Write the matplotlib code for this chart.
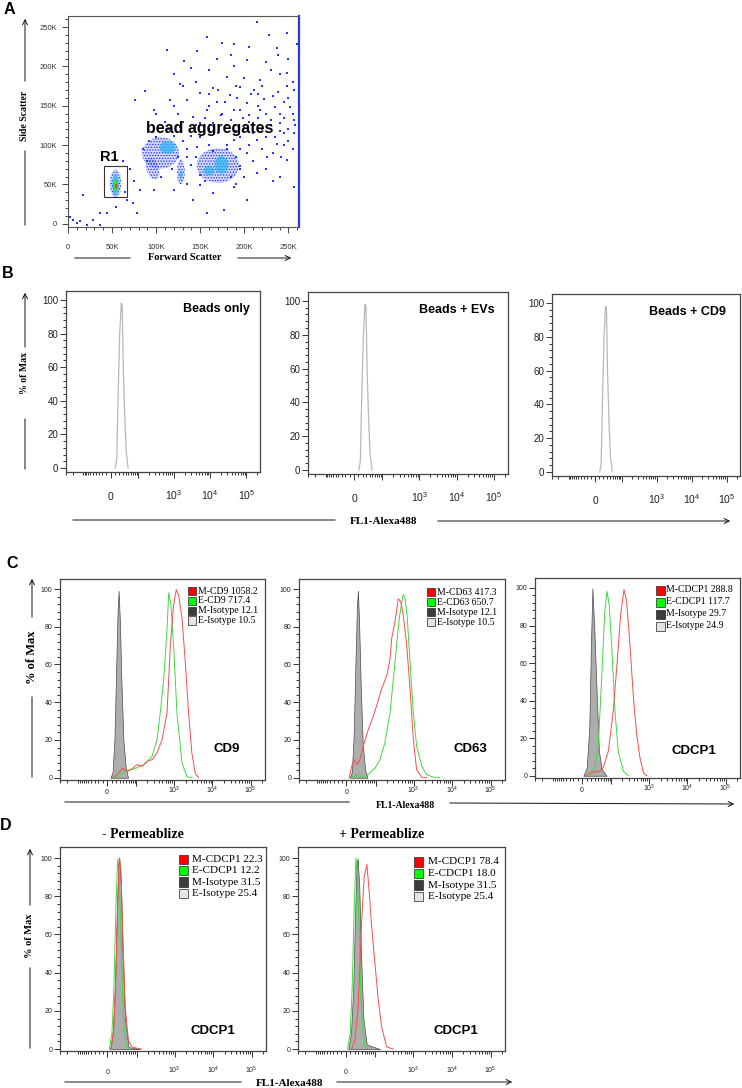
import numpy as np
import matplotlib
matplotlib.use("Agg")
import matplotlib.pyplot as plt
from matplotlib.patches import Ellipse, Rectangle, FancyArrowPatch
from matplotlib.ticker import FixedLocator, FixedFormatter, MultipleLocator

plt.rcParams['font.family'] = ['Liberation Sans', 'DejaVu Sans']
plt.rcParams['mathtext.fontset'] = 'custom'
plt.rcParams['mathtext.rm'] = 'Liberation Sans'
plt.rcParams['mathtext.default'] = 'rm'
plt.rcParams['hatch.linewidth'] = 0.6

W, H = 742, 1088
SERIF = ['Liberation Serif', 'DejaVu Serif']

# ---------------- panel A data (K units) ----------------
a_sparse_x = [214, 228, 158, 112, 237, 146, 132, 140, 203, 169, 188, 248, 180, 218, 195, 165, 256, 87.5,
              211, 150, 184, 233, 76, 135, 169, 203, 252, 158, 188, 218, 241, 142, 173, 199, 256, 150,
              211, 230, 245, 256, 127, 188, 214, 237, 146, 203, 226, 248, 195, 214, 233, 135, 82, 74,
              67, 78, 36, 28, 17, 2, 10, 21, 36, 6, 14, 150, 165, 177, 142, 120, 97, 55, 44, 248, 260,
              188, 127, 97, 116, 256, 188, 203, 158]
a_sparse_y = [257, 240, 237, 221, 223, 219, 207, 198, 208, 209, 200, 191, 187, 183, 174, 173, 170, 169,
              170, 166, 164, 162, 157, 157, 155, 153, 149, 145, 145, 145, 140, 136, 138, 134, 132, 128,
              126, 132, 115, 115, 123, 107, 107, 102, 98, 90, 85, 81, 73, 64, 54, 85, 43, 26,
              30, 14, 14, 5, 37, 9, 1, -1, -1, 5, 3, 49, 39, 18, 30, 43, 43, 22, 14, 242, 229,
              229, 178, 145, 157, 47, 47, 30, 14]
a_halo_x = [150, 160, 170, 180, 190, 200, 210, 220, 230, 240, 250, 155, 165, 175, 185, 195, 205, 215,
            225, 235, 245, 160, 178, 192, 208, 222, 238, 250, 140, 145, 205, 220, 235, 245, 180, 195,
            160, 130, 135, 125, 245, 255, 90, 85, 92, 100, 120, 125, 118, 105, 140, 145, 150, 155,
            185, 190, 195, 180, 165, 135, 75, 70, 65, 62]
a_halo_y = [110, 120, 115, 125, 118, 122, 115, 120, 125, 128, 120, 135, 128, 140, 132, 145, 138, 150,
            140, 148, 155, 150, 155, 160, 165, 158, 168, 160, 112, 125, 100, 95, 110, 100, 100, 95,
            100, 105, 95, 140, 135, 140, 80, 95, 105, 110, 112, 85, 70, 60, 75, 85, 62, 55,
            60, 85, 70, 95, 92, 50, 55, 70, 40, 80]
a_upper_x = [120, 130, 160, 175, 200, 215, 225, 240, 250, 255, 145, 170, 190, 205, 230, 238, 248, 220,
             185, 160, 110, 100, 120, 130, 115, 195, 205, 215, 225, 240, 250, 258, 232, 242, 210, 200,
             190, 225, 240, 255]
a_upper_y = [190, 175, 195, 230, 185, 165, 205, 190, 210, 180, 180, 170, 175, 225, 195, 215, 175, 175,
             215, 165, 130, 140, 150, 130, 120, 110, 130, 135, 110, 118, 105, 125, 90, 85, 80, 60,
             50, 70, 60, 95]

# dense populations: R1 beads, aggregates
pop_x = [54, 105, 96, 128, 170]
pop_y = [51, 90, 70, 66, 74]
pop_w = [13, 42, 14, 9, 48]
pop_h = [36, 40, 28, 32, 44]
pop_ang = [0, 10, 15, 0, 0]
core_x = [54, 113, 128, 174, 160]
core_y = [50, 97, 62, 75, 68]
core_w = [8, 18, 3.5, 16, 12]
core_h = [27, 16, 12, 22, 12]
peak_x = [54, 54.5]
peak_y = [49, 48]
peak_w = [4.5, 2.2]
peak_h = [16, 6]
r1_gate = [41, 34, 67, 73]

# ---------------- histogram data (channel, % of max) ----------------
b_x = [10.8, 14.4, 17.5, 21.9, 26.2, 28.9, 32.2, 37.0, 41.7, 48.7]
b_y = [0, 5, 40, 80, 98, 97, 60, 30, 10, 0]

c1_iso_x = [7.2, 12, 16.2, 19.8, 24.1, 26.8, 30.1, 34.6, 41.0, 49.5, 58.0]
c1_iso_y = [0, 3, 20, 52, 88, 99, 84, 52, 20, 5, 0]
c1_e_x = [16.2, 43, 86, 160, 267, 360, 438, 540, 658, 726, 832, 977, 1190, 1617, 2174, 2920]
c1_e_y = [0, 3.4, 4.6, 6.9, 11.4, 20.3, 34.6, 52.4, 79.1, 97.9, 91.6, 70.2, 34.6, 7.8, 0.5, 0]
c1_m_x = [12.6, 24.1, 38.3, 55.5, 77.4, 106, 147, 198, 267, 360, 490, 658, 802, 977, 1146, 1314,
          1617, 1971, 2398, 2920, 3560, 4390]
c1_m_y = [0, 2.0, 5.0, 3.4, 4.8, 6.9, 6.1, 8.7, 9.6, 13.2, 20.3, 34.6, 70.2, 91.6, 99.6, 97,
          84.5, 61.3, 34.6, 13.2, 2.5, 0]

c2_iso_x = [7.2, 12, 16.2, 19.8, 24.1, 26.8, 30.1, 34.6, 41.0, 49.5, 58.0]
c2_iso_y = [0, 3, 22, 55, 90, 99, 82, 50, 18, 4, 0]
c2_m_x = [6.2, 11.7, 17.0, 25.2, 32.6, 42.8, 62.3, 86.8, 107, 146, 200, 244, 269, 329, 400, 464,
          538, 664, 808, 985, 1199, 1631, 2193]
c2_m_y = [0, 6.1, 9.6, 6.9, 9.6, 16.8, 25.7, 32.8, 38.2, 47.1, 54.2, 63.1, 73.8, 82.7, 94.8, 93.4,
          86.3, 70.2, 47.1, 20.3, 4.3, 0.3, 0]
c2_e_x = [6.2, 15.5, 22.0, 30, 48.6, 69.4, 96.5, 132, 178, 244, 298, 362, 425, 482, 538, 601, 688,
          808, 985, 1199, 1631, 2193, 3250, 4820]
c2_e_y = [0, 0.4, 1.6, 0.2, 0.7, 2.5, 5.2, 9.6, 18.5, 34.6, 52.4, 70.2, 84.5, 91.6, 97, 95.2, 84.5,
          61.3, 34.6, 16.8, 6.1, 1.6, 0.3, 0]

c3_iso_x = [2.7, 9.9, 15.9, 19.9, 23.6, 28.6, 35.6, 42.8, 52.6, 74.4]
c3_iso_y = [0, 4.3, 25.5, 69.8, 99.8, 78.7, 43.3, 13.1, 3.4, 0]
c3_e_x = [17.5, 30.8, 40.8, 52.6, 65.7, 75.9, 87.8, 102.6, 127, 155, 212, 287]
c3_e_y = [0, 4.3, 16.7, 52.1, 87.6, 98.2, 91.1, 69.8, 34.4, 13.1, 2.5, 0]
c3_m_x = [8.5, 17.5, 30.8, 46.5, 58.9, 83.2, 114, 146, 180, 221, 259, 317, 392, 476, 580, 715, 871]
c3_m_y = [0, 1.6, 2.1, 2.5, 4.3, 13.1, 34.4, 61.0, 85.8, 99.1, 92.9, 69.8, 41.5, 22, 9.6, 1.6, 0]

d1_iso_x = [5.8, 11.7, 17.0, 21.0, 25.2, 28.0, 32.6, 37.6, 45.9, 58.1, 81, 123]
d1_iso_y = [0, 8.2, 32.6, 67.5, 97.2, 99.8, 85, 50, 15.2, 1.2, 0.5, 0]
d1_m_x = [8.1, 14.5, 19.4, 23.6, 28.0, 32.6, 37.6, 45.9, 58.1, 72.8, 100, 139]
d1_m_y = [0, 11.7, 41.4, 76.3, 100, 93.7, 62.3, 22.1, 4.7, 1.2, 0.5, 0]
d1_e_x = [4.0, 9.9, 14.5, 19.4, 23.6, 28.0, 32.6, 37.6, 42.2, 51.4, 64.9]
d1_e_y = [0, 8.2, 32.6, 76.3, 99.3, 88.5, 58.8, 27.4, 11.7, 1.2, 0]

d2_iso_x = [5.8, 11.7, 17.0, 21.0, 25.2, 28.0, 32.6, 37.6, 45.9, 58.1, 81, 136]
d2_iso_y = [0, 8.2, 32.6, 67.5, 97.2, 99.8, 85, 50, 15.2, 2.5, 1.5, 0]
d2_e_x = [4.0, 9.9, 14.5, 19.4, 23.6, 28.0, 32.6, 37.6, 42.2, 51.4, 64.9]
d2_e_y = [0, 8.2, 32.6, 76.3, 100, 88.5, 58.8, 27.4, 11.7, 1.2, 0]
d2_m_x = [13.1, 21.0, 29.6, 40.1, 48.6, 58.9, 69.4, 81, 100, 123, 151, 205, 305]
d2_m_y = [0, 4.7, 22, 67.5, 90.2, 96.7, 81.5, 64, 44.9, 25.7, 11.7, 1.2, 0]

legend_c1 = ['M-CD9 1058.2', 'E-CD9 717.4', 'M-Isotype 12.1', 'E-Isotype 10.5']
legend_c2 = ['M-CD63 417.3', 'E-CD63 650.7', 'M-Isotype 12.1', 'E-Isotype 10.5']
legend_c3 = ['M-CDCP1 288.8', 'E-CDCP1 117.7', 'M-Isotype 29.7', 'E-Isotype 24.9']
legend_d1 = ['M-CDCP1 22.3', 'E-CDCP1 12.2', 'M-Isotype 31.5', 'E-Isotype 25.4']
legend_d2 = ['M-CDCP1 78.4', 'E-CDCP1 18.0', 'M-Isotype 31.5', 'E-Isotype 25.4']
LEG_COLORS = ['#ff0000', '#00ff00', '#3c3c3c', '#e4e4e4']

RED = '#ff4a4a'
GREEN = '#3ddc3d'

fig = plt.figure(figsize=(W / 100, H / 100), dpi=100)


def rect(l, r, t, b):
    return [l / W, 1 - b / H, (r - l) / W, (b - t) / H]


def fpt(x, y):
    return (x / W, 1 - y / H)


def fline(x0, y0, x1, y1, arrow=False):
    style = '->' if arrow else '-'
    fig.add_artist(FancyArrowPatch(fpt(x0, y0), fpt(x1, y1), transform=fig.transFigure,
                                   arrowstyle=style, mutation_scale=9, lw=0.7, color='#111111'))


def ftext(x, y, s, **kw):
    fig.text(x / W, 1 - y / H, s, ha='center', va='center', **kw)


# ---------------- panel A ----------------
axA = fig.add_axes(rect(68, 299, 16, 227))
axA.set_xlim(0, 262)
axA.set_ylim(-4, 264)
for i in range(len(pop_x)):
    axA.add_patch(Ellipse((pop_x[i], pop_y[i]), pop_w[i], pop_h[i], angle=pop_ang[i],
                          fc='#6a80ff', alpha=0.3, lw=0))
    axA.add_patch(Ellipse((pop_x[i], pop_y[i]), pop_w[i], pop_h[i], angle=pop_ang[i],
                          fill=False, hatch='......', ec='#1f2fe0', lw=0))
for i in range(len(core_x)):
    axA.add_patch(Ellipse((core_x[i], core_y[i]), core_w[i], core_h[i],
                          fc='#22b8f0', alpha=0.7, lw=0))
axA.add_patch(Ellipse((peak_x[0], peak_y[0]), peak_w[0], peak_h[0], fc='#30e040', lw=0))
axA.add_patch(Ellipse((peak_x[1], peak_y[1]), peak_w[1], peak_h[1], fc='#ff3010', lw=0))
for xs, ys in [(a_sparse_x, a_sparse_y), (a_halo_x, a_halo_y), (a_upper_x, a_upper_y)]:
    axA.scatter(xs, ys, s=2.0, c='#2038ff', marker='s', lw=0)
axA.add_patch(Rectangle((r1_gate[0], r1_gate[1]), r1_gate[2] - r1_gate[0], r1_gate[3] - r1_gate[1],
                        fill=False, ec='#333333', lw=0.8))
axA.text(36, 85, 'R1', fontsize=10.5, fontweight='bold', va='center')
axA.text(89, 121, 'bead aggregates', fontsize=11.5, fontweight='bold', va='center')
ticksA = [0, 50, 100, 150, 200, 250]
labelsA = ['0', '50K', '100K', '150K', '200K', '250K']
axA.xaxis.set_major_locator(FixedLocator(ticksA))
axA.xaxis.set_major_formatter(FixedFormatter(labelsA))
axA.yaxis.set_major_locator(FixedLocator(ticksA))
axA.yaxis.set_major_formatter(FixedFormatter(labelsA))
axA.xaxis.set_minor_locator(MultipleLocator(10))
axA.yaxis.set_minor_locator(MultipleLocator(10))
axA.tick_params(which='both', direction='out', color='#444444', width=0.7, labelsize=5.5,
                labelcolor='#333333')
axA.tick_params(which='major', length=4)
axA.tick_params(which='minor', length=2)
axA.tick_params(axis='x', pad=8)
axA.tick_params(axis='y', pad=4)
for s in axA.spines.values():
    s.set_color('#555555')
    s.set_linewidth(0.8)
axA.spines['right'].set_color('#2a3ad8')
axA.spines['right'].set_linewidth(1.6)

ftext(25, 116, 'Side Scatter', rotation=90, fontsize=7, fontweight='bold', family=SERIF)
fline(25, 84, 25, 16, arrow=True)
fline(25, 228, 25, 148)
ftext(185, 258, 'Forward Scatter', fontsize=7.5, fontweight='bold', family=SERIF)
fline(72, 258, 133, 258)
fline(235, 258, 294, 258, arrow=True)

# ---------------- flow histogram axes ----------------
X_MIN, X_MAX = -305, 2.37e5


def fwd(x):
    return np.arcsinh(np.asarray(x, dtype=float) / 36.0)


def inv(y):
    return 36.0 * np.sinh(y)


MINOR = ([-300, -200, -100] + list(range(-90, 0, 10)) + list(range(10, 100, 10))
         + [m * 10 ** e for e in (2, 3, 4) for m in range(2, 10)] + [2e5])


def flow_axes(l, r, t, b, ylim, yfs, xfs, xpad):
    ax = fig.add_axes(rect(l, r, t, b))
    ax.set_xscale('function', functions=(fwd, inv))
    ax.set_xlim(X_MIN, X_MAX)
    ax.set_ylim(*ylim)
    ax.xaxis.set_major_locator(FixedLocator([0, 100, 1e3, 1e4, 1e5]))
    ax.xaxis.set_major_formatter(FixedFormatter(['0', '', '$10^3$', '$10^4$', '$10^5$']))
    ax.xaxis.set_minor_locator(FixedLocator(MINOR))
    ax.yaxis.set_major_locator(FixedLocator([0, 20, 40, 60, 80, 100]))
    ax.yaxis.set_minor_locator(FixedLocator(list(range(4, 100, 4))))
    ax.tick_params(which='both', direction='out', color='#333333', width=0.7)
    ax.tick_params(which='major', length=4)
    ax.tick_params(which='minor', length=2)
    ax.tick_params(axis='x', labelsize=xfs, pad=xpad, labelcolor='#222222')
    ax.tick_params(axis='y', labelsize=yfs, pad=1.5, labelcolor='#222222')
    for lab in ax.get_xticklabels():
        lab.set_va('baseline')
    for s in ax.spines.values():
        s.set_color('#444444')
        s.set_linewidth(0.9)
    return ax


def iso(ax, x, y):
    ax.fill_between(x, y, 0, fc='#adadad', ec='#4a4a4a', lw=0.5, zorder=2)


def curve(ax, x, y, color):
    ax.plot(x, y, color=color, lw=0.7, zorder=3)


def legend(ax, labels, x0, tx, y0, dy, sw, sh, fs):
    for i, (lab, col) in enumerate(zip(labels, LEG_COLORS)):
        y = y0 - i * dy
        ax.add_patch(Rectangle((x0, y - sh / 2), sw, sh, transform=ax.transAxes, fc=col,
                               ec='#222222', lw=0.5, clip_on=False, zorder=5))
        ax.text(tx, y, lab, transform=ax.transAxes, fontsize=fs, family=SERIF, va='center',
                ha='left', zorder=5)


# ---------------- panel B ----------------
B_YLIM = (-2.4, 105.3)
axB1 = flow_axes(66, 260, 291, 472, B_YLIM, 7, 7.5, 16.5)
axB2 = flow_axes(308, 508, 292, 474, B_YLIM, 7, 7.5, 16.5)
axB3 = flow_axes(552, 740, 294, 476, B_YLIM, 7, 7.5, 16.5)
for ax, title, tx in [(axB1, 'Beads only', 0.773), (axB2, 'Beads + EVs', 0.745),
                      (axB3, 'Beads + CD9', 0.718)]:
    ax.plot(b_x, b_y, color='#b8b8b8', lw=0.9)
    ax.text(tx, 0.9, title, transform=ax.transAxes, fontsize=9, fontweight='bold',
            ha='center', va='center')

ftext(25, 373, '% of Max', rotation=90, fontsize=7, fontweight='bold', family=SERIF)
fline(25, 350, 25, 290, arrow=True)
fline(25, 472, 25, 416)
ftext(384, 521, 'FL1-Alexa488', fontsize=8, fontweight='bold', family=SERIF)
fline(70, 520, 338, 520)
fline(435, 521, 733, 521, arrow=True)

# ---------------- panel C ----------------
C_YLIM = (-1.2, 105.3)
axC1 = flow_axes(60, 265, 579, 780, C_YLIM, 5, 5, 6)
axC2 = flow_axes(299, 505, 579, 780, C_YLIM, 5, 5, 6)
axC3 = flow_axes(535, 740, 578, 778, C_YLIM, 5, 5, 6)

iso(axC1, c1_iso_x, c1_iso_y)
curve(axC1, c1_e_x, c1_e_y, GREEN)
curve(axC1, c1_m_x, c1_m_y, RED)
legend(axC1, legend_c1, 0.624, 0.672, 0.94, 0.049, 0.04, 0.042, 7)
axC1.text(0.815, 0.156, 'CD9', transform=axC1.transAxes, fontsize=9.5, fontweight='bold',
          ha='center', va='center')

iso(axC2, c2_iso_x, c2_iso_y)
curve(axC2, c2_e_x, c2_e_y, GREEN)
curve(axC2, c2_m_x, c2_m_y, RED)
legend(axC2, legend_c2, 0.621, 0.670, 0.935, 0.05, 0.04, 0.042, 7)
axC2.text(0.83, 0.155, 'CD63', transform=axC2.transAxes, fontsize=9.5, fontweight='bold',
          ha='center', va='center')

iso(axC3, c3_iso_x, c3_iso_y)
curve(axC3, c3_e_x, c3_e_y, GREEN)
curve(axC3, c3_m_x, c3_m_y, RED)
legend(axC3, legend_c3, 0.59, 0.640, 0.94, 0.06, 0.045, 0.045, 7)
axC3.text(0.776, 0.135, 'CDCP1', transform=axC3.transAxes, fontsize=9.5, fontweight='bold',
          ha='center', va='center')

ftext(32, 657, '% of Max', rotation=90, fontsize=9, fontweight='bold', family=SERIF)
fline(32, 620, 32, 576, arrow=True)
fline(32, 780, 32, 694)
ftext(405, 806, 'FL1-Alexa488', fontsize=7, fontweight='bold', family=SERIF)
fline(62, 802, 352, 802)
fline(447, 803, 737, 804, arrow=True)

# ---------------- panel D ----------------
D_YLIM = (-1.0, 105.8)
axD1 = flow_axes(60, 266, 847, 1051, D_YLIM, 5, 5, 12.5)
axD2 = flow_axes(298, 505, 847, 1051, D_YLIM, 5, 5, 12.5)

iso(axD1, d1_iso_x, d1_iso_y)
curve(axD1, d1_e_x, d1_e_y, GREEN)
curve(axD1, d1_m_x, d1_m_y, RED)
legend(axD1, legend_d1, 0.578, 0.64, 0.94, 0.056, 0.044, 0.046, 8)
axD1.text(0.743, 0.098, 'CDCP1', transform=axD1.transAxes, fontsize=9.5, fontweight='bold',
          ha='center', va='center')

iso(axD2, d2_iso_x, d2_iso_y)
curve(axD2, d2_e_x, d2_e_y, GREEN)
curve(axD2, d2_m_x, d2_m_y, RED)
legend(axD2, legend_d2, 0.56, 0.628, 0.927, 0.057, 0.044, 0.046, 8)
axD2.text(0.763, 0.098, 'CDCP1', transform=axD2.transAxes, fontsize=9.5, fontweight='bold',
          ha='center', va='center')

ftext(143, 834, '- Permeablize', fontsize=10, fontweight='bold', family=SERIF)
ftext(382, 835, '+ Permeablize', fontsize=10, fontweight='bold', family=SERIF)
ftext(30, 936, '% of Max', rotation=90, fontsize=7.5, fontweight='bold', family=SERIF)
fline(30, 908, 30, 846, arrow=True)
fline(30, 1051, 30, 965)
ftext(290, 1083, 'FL1-Alexa488', fontsize=8, fontweight='bold', family=SERIF)
fline(62, 1082, 244, 1082)
fline(334, 1082, 515, 1082, arrow=True)

# ---------------- panel letters ----------------
for letter, x, y in [('A', 9, 9), ('B', 8, 274), ('C', 12, 564), ('D', 6, 825)]:
    ftext(x, y, letter, fontsize=11.5, fontweight='bold')

fig.savefig('out.png', dpi=100)
